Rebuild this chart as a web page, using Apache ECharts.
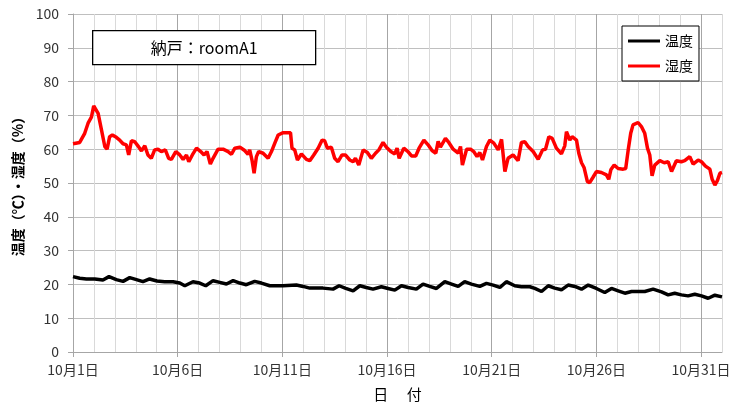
<!DOCTYPE html>
<html>
<head>
<meta charset="utf-8">
<script src="https://cdn.jsdelivr.net/npm/echarts@6/dist/echarts.min.js"></script>
<style>
    html, body { margin: 0; padding: 0; background: #fff; }
    #chart { width: 739px; height: 405px; }
</style>
</head>
<body>
<div id="chart"></div>
<script>
    // x = day of October (32 = Nov 1 00:00)
    const labelDays = [1, 6, 11, 16, 21, 26, 31];
    const seriesNames = ['温度', '湿度'];

    const temperature = [
        [1.00, 22.3], [1.32, 21.8], [1.64, 21.6], [2.04, 21.6], [2.43, 21.3], [2.72, 22.3], [3.07, 21.4],
        [3.39, 20.9], [3.71, 22.0], [4.03, 21.4], [4.34, 20.8], [4.66, 21.6], [5.01, 21.0], [5.38, 20.8],
        [5.78, 20.8], [6.10, 20.4], [6.34, 19.6], [6.73, 20.8], [7.05, 20.4], [7.34, 19.6], [7.69, 21.1],
        [8.01, 20.6], [8.33, 20.1], [8.65, 21.1], [8.97, 20.4], [9.28, 19.9], [9.68, 20.9], [10.00, 20.4],
        [10.40, 19.6], [11.03, 19.6], [11.67, 19.8], [11.99, 19.4], [12.31, 18.9], [12.94, 18.9], [13.42, 18.6],
        [13.71, 19.6], [14.03, 18.8], [14.38, 18.1], [14.70, 19.6], [15.01, 19.1], [15.33, 18.6], [15.73, 19.3],
        [16.05, 18.8], [16.37, 18.3], [16.69, 19.6], [17.01, 19.1], [17.40, 18.6], [17.72, 20.1], [18.04, 19.4],
        [18.36, 18.8], [18.76, 20.8], [19.08, 20.1], [19.40, 19.4], [19.71, 20.8], [20.03, 20.1], [20.43, 19.4],
        [20.75, 20.3], [21.07, 19.8], [21.39, 19.1], [21.70, 20.8], [22.10, 19.6], [22.42, 19.3], [22.82, 19.3],
        [23.06, 18.8], [23.38, 17.9], [23.70, 19.6], [24.01, 18.9], [24.33, 18.4], [24.65, 19.8], [24.97, 19.4],
        [25.29, 18.6], [25.61, 19.8], [26.00, 18.8], [26.40, 17.6], [26.72, 18.8], [27.04, 18.1], [27.36, 17.4],
        [27.68, 17.9], [28.31, 17.9], [28.71, 18.6], [29.11, 17.8], [29.43, 16.9], [29.74, 17.4], [30.06, 16.9],
        [30.38, 16.6], [30.70, 17.1], [31.02, 16.6], [31.34, 15.9], [31.66, 16.8], [32.00, 16.3]
    ];

    const humidity = [
        [1.00, 61.6], [1.32, 62.0], [1.56, 64.7], [1.72, 67.7], [1.88, 69.5], [1.99, 72.8], [2.08, 73.1],
        [2.20, 70.6], [2.36, 65.7], [2.52, 60.8], [2.63, 60.0], [2.75, 63.7], [2.88, 64.2], [3.07, 63.5],
        [3.23, 62.7], [3.39, 61.6], [3.55, 61.3], [3.66, 58.3], [3.79, 62.5], [3.95, 62.2], [4.10, 61.0],
        [4.27, 59.5], [4.43, 61.0], [4.58, 58.3], [4.74, 57.3], [4.90, 59.8], [5.06, 60.0], [5.22, 59.3],
        [5.41, 59.8], [5.57, 57.3], [5.70, 57.0], [5.91, 59.3], [6.10, 58.3], [6.26, 57.0], [6.42, 58.3],
        [6.53, 56.3], [6.70, 58.3], [6.90, 60.3], [7.10, 59.3], [7.26, 58.3], [7.40, 59.3], [7.56, 55.6],
        [7.69, 57.3], [7.93, 60.0], [8.17, 60.0], [8.41, 59.3], [8.57, 58.5], [8.73, 60.3], [8.97, 60.6],
        [9.20, 59.6], [9.36, 58.5], [9.44, 59.8], [9.55, 56.8], [9.65, 52.9], [9.76, 57.8], [9.87, 59.3],
        [10.08, 58.8], [10.32, 57.3], [10.48, 59.3], [10.64, 61.8], [10.80, 64.2], [11.04, 64.9], [11.27, 64.9],
        [11.39, 64.9], [11.46, 60.3], [11.59, 59.8], [11.72, 56.8], [11.91, 58.6], [12.15, 57.0], [12.31, 56.6],
        [12.50, 58.3], [12.71, 60.3], [12.90, 62.7], [13.02, 62.5], [13.15, 60.3], [13.34, 60.6], [13.50, 57.3],
        [13.66, 56.3], [13.85, 58.3], [14.01, 58.3], [14.22, 56.8], [14.38, 56.3], [14.49, 57.3], [14.65, 55.3],
        [14.86, 59.8], [15.06, 59.0], [15.25, 57.3], [15.45, 58.8], [15.61, 59.8], [15.81, 62.0], [15.97, 60.6],
        [16.18, 59.3], [16.37, 58.6], [16.48, 60.3], [16.58, 57.3], [16.80, 60.3], [17.00, 59.3], [17.17, 58.0],
        [17.37, 58.0], [17.53, 60.3], [17.76, 62.7], [17.96, 61.3], [18.15, 59.6], [18.33, 58.8], [18.44, 62.3],
        [18.55, 60.6], [18.79, 63.2], [18.95, 62.0], [19.16, 60.0], [19.40, 58.8], [19.51, 60.8], [19.60, 55.3],
        [19.80, 60.0], [19.99, 60.0], [20.14, 59.3], [20.30, 57.8], [20.43, 59.0], [20.56, 56.8], [20.75, 60.8],
        [20.91, 62.7], [21.10, 61.8], [21.31, 59.8], [21.47, 62.9], [21.63, 53.4], [21.78, 57.3], [22.02, 58.3],
        [22.26, 56.6], [22.42, 62.0], [22.58, 62.2], [22.74, 60.8], [22.98, 59.3], [23.22, 57.0], [23.43, 59.8],
        [23.57, 60.0], [23.73, 63.7], [23.89, 63.2], [24.09, 60.3], [24.33, 58.6], [24.49, 61.0], [24.57, 65.2],
        [24.65, 65.7], [24.73, 62.7], [24.84, 63.7], [25.05, 62.7], [25.16, 58.8], [25.29, 56.0], [25.41, 54.6],
        [25.57, 50.4], [25.68, 50.1], [25.84, 51.7], [26.00, 53.4], [26.24, 53.1], [26.48, 52.4], [26.59, 51.1],
        [26.69, 53.9], [26.85, 55.3], [27.04, 54.3], [27.28, 54.1], [27.40, 54.3], [27.52, 59.8], [27.64, 64.7],
        [27.75, 67.2], [27.99, 67.9], [28.15, 66.7], [28.31, 64.7], [28.44, 60.3], [28.55, 58.3], [28.66, 52.1],
        [28.79, 55.3], [29.03, 56.6], [29.24, 56.0], [29.43, 56.3], [29.59, 53.4], [29.82, 56.6], [30.06, 56.3],
        [30.22, 56.6], [30.46, 57.8], [30.62, 55.6], [30.86, 56.8], [31.02, 56.3], [31.21, 55.0], [31.42, 54.1],
        [31.53, 51.1], [31.66, 49.4], [31.78, 50.7], [31.90, 52.9], [32.00, 53.1]
    ];

    const FONT = '"Noto Sans CJK JP", "Noto Sans", sans-serif';
    const chart = echarts.init(document.getElementById('chart'), null, {renderer: 'canvas'});

    chart.setOption({
        animation: false,
        backgroundColor: '#fff',
        textStyle: {fontFamily: FONT},
        grid: {left: 73, right: 17, top: 14, bottom: 53, containLabel: false, outerBoundsMode: 'none'},
        graphic: [{
            type: 'group', left: 92, top: 30, z: 100,
            children: [
                {type: 'rect', z: 100, shape: {x: 0, y: 0, width: 223, height: 34},
                    style: {fill: '#fff', stroke: '#000', lineWidth: 1.3}},
                {type: 'text', z: 101, x: 111.5, y: 17,
                    style: {text: '納戸：roomA1', fontSize: 16, fill: '#000', fontFamily: FONT,
                        align: 'center', verticalAlign: 'middle'}}
            ]
        }],
        legend: {
            orient: 'vertical', left: 622, top: 26, z: 100,
            padding: [8, 6, 8, 6], itemGap: 11,
            borderColor: '#000', borderWidth: 1, backgroundColor: '#fff',
            icon: 'rect', itemWidth: 32, itemHeight: 3,
            textStyle: {fontSize: 14, color: '#000', fontFamily: FONT},
            data: seriesNames
        },
        xAxis: [{
            // labels and ticks every 5 days
            type: 'value', min: 1, max: 32, position: 'bottom',
            name: '日　 付', nameLocation: 'middle', nameGap: 35,
            nameTextStyle: {fontSize: 15, color: '#000', fontFamily: FONT},
            axisLine: {show: true, lineStyle: {color: '#a6a6a6', width: 1}},
            axisTick: {show: true, length: 5, customValues: labelDays, lineStyle: {color: '#a6a6a6'}},
            axisLabel: {
                customValues: labelDays, fontSize: 14, color: '#333', margin: 11,
                formatter: v => '10月' + v + '日'
            },
            splitLine: {show: false}
        }, {
            // daily grid lines
            type: 'value', min: 1, max: 32, interval: 1, position: 'bottom',
            axisLine: {show: false}, axisTick: {show: false}, axisLabel: {show: false},
            splitLine: {show: true, lineStyle: {color: ['#a6a6a6', '#d9d9d9', '#d9d9d9', '#d9d9d9', '#d9d9d9'], width: 1}}
        }],
        yAxis: {
            type: 'value', min: 0, max: 100, interval: 10,
            name: '温度（℃）・湿度（%）', nameLocation: 'middle', nameGap: 43, nameRotate: 90,
            nameTextStyle: {fontSize: 14, fontWeight: 'bold', color: '#000', fontFamily: FONT},
            axisLine: {show: true, lineStyle: {color: '#a6a6a6', width: 1}},
            axisTick: {show: true, length: 5, lineStyle: {color: '#a6a6a6'}},
            axisLabel: {fontSize: 14, color: '#333', margin: 14},
            splitLine: {show: true, lineStyle: {color: '#bfbfbf', width: 1}}
        },
        series: [
            {name: seriesNames[0], type: 'line', xAxisIndex: 0, data: temperature, showSymbol: false, symbol: 'none',
                lineStyle: {color: '#000', width: 3.5}, itemStyle: {color: '#000'}},
            {name: seriesNames[1], type: 'line', xAxisIndex: 0, data: humidity, showSymbol: false, symbol: 'none',
                lineStyle: {color: '#ff0000', width: 3.5}, itemStyle: {color: '#ff0000'}}
        ]
    });
</script>
</body>
</html>
